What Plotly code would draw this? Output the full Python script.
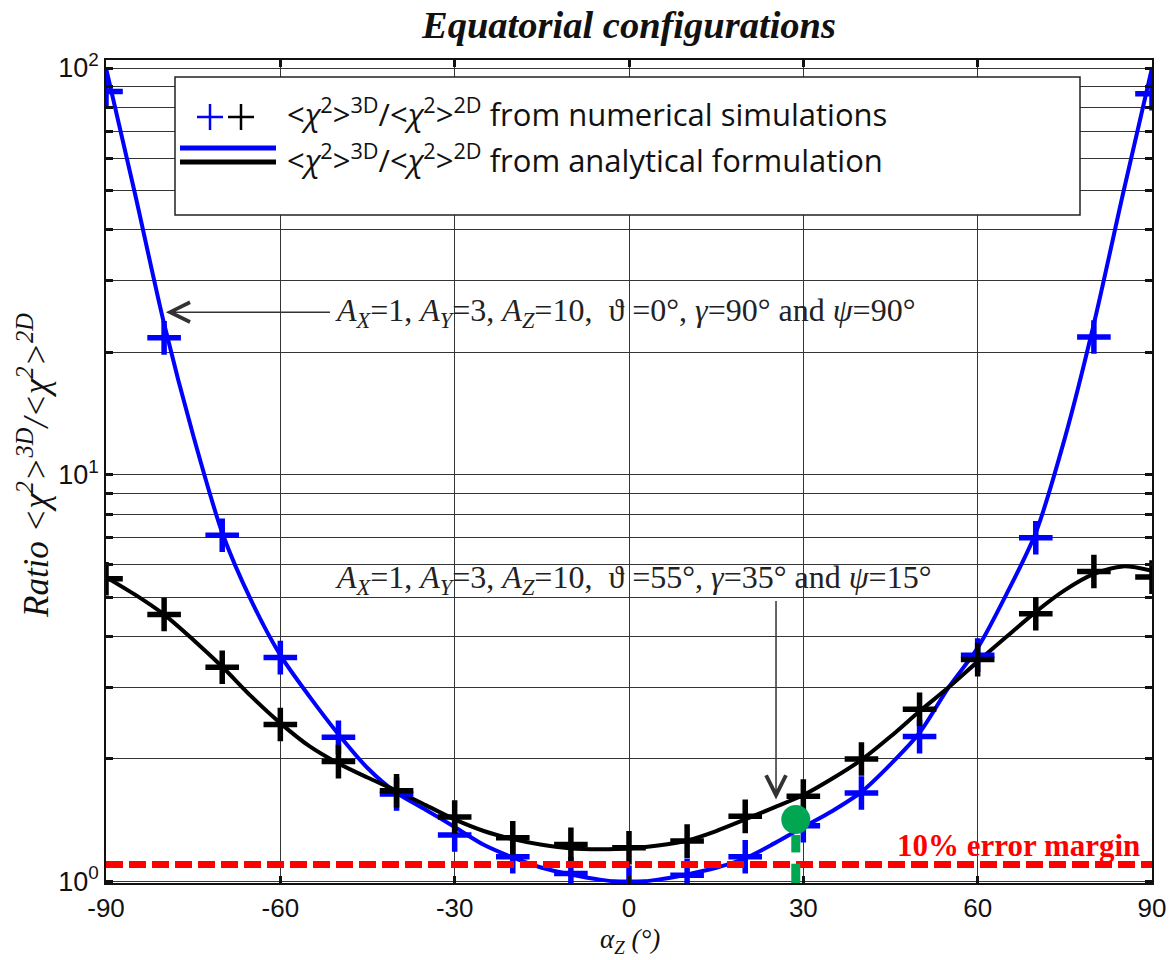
import numpy as np
import plotly.graph_objects as go

# ---------------- data ----------------
angles_sim = [-90, -80, -70, -60, -50, -40, -30, -20, -10, 0, 10, 20, 30, 40, 50, 60, 70, 80, 90]
ratio_sim_case1 = [87.5, 21.7, 7.1, 3.55, 2.26, 1.64, 1.30, 1.15, 1.046, 0.995, 1.035, 1.15, 1.37,
                   1.65, 2.27, 3.6, 7.0, 21.8, 86.5]
ratio_sim_case2 = [5.55, 4.53, 3.36, 2.43, 1.97, 1.67, 1.44, 1.28, 1.233, 1.21, 1.256, 1.445, 1.62,
                   2.0, 2.65, 3.51, 4.55, 5.78, 5.6]

angles_ana = list(range(-90, 91, 5))
ratio_ana_case1 = [100, 49, 23.5, 12.5, 7.2, 4.9, 3.6, 2.85, 2.3, 1.90, 1.65, 1.50, 1.36, 1.23, 1.145,
                   1.08, 1.04, 1.01, 0.995, 1.01, 1.04, 1.08, 1.14, 1.24, 1.36, 1.49, 1.66, 1.94, 2.32,
                   3.0, 3.75, 5.1, 7.2, 12.3, 23.5, 49, 100]
ratio_ana_case2 = [5.6, 5.07, 4.53, 3.93, 3.37, 2.85, 2.45, 2.15, 1.95, 1.8, 1.67, 1.54, 1.42, 1.33,
                   1.27, 1.23, 1.205, 1.2, 1.205, 1.225, 1.26, 1.33, 1.42, 1.52, 1.63, 1.79, 1.99,
                   2.27, 2.62, 3.0, 3.47, 4.0, 4.6, 5.2, 5.7, 5.95, 5.8]

error_margin = 1.1
error_label_pos = (88.3, 1.226)

pin_angle = 28.7
pin_head = 1.42
pin_stem_upper = [1.30, 1.178]
pin_stem_lower = [1.105, 0.99]

x_ticks = [-90, -60, -30, 0, 30, 60, 90]
x_ticktext = ["-90", "-60", "-30", "0", "30", "60", "90"]
y_ticks = [1, 10, 100]
y_ticktext = ["10<sup>0</sup>", "10<sup>1</sup>", "10<sup>2</sup>"]
y_minor = [2, 3, 4, 5, 6, 7, 8, 9, 20, 30, 40, 50, 60, 70, 80, 90]

case1_text = ("<i>A</i><sub><i>X</i></sub>=1, <i>A</i><sub><i>Y</i></sub>=3, "
              "<i>A</i><sub><i>Z</i></sub>=10,  ϑ =0°, <i>γ</i>=90° and <i>ψ</i>=90°")
case2_text = ("<i>A</i><sub><i>X</i></sub>=1, <i>A</i><sub><i>Y</i></sub>=3, "
              "<i>A</i><sub><i>Z</i></sub>=10,  ϑ =55°, <i>γ</i>=35° and <i>ψ</i>=15°")
case1_label_pos = (-51.0, 25.1)
case1_arrow_tip = (-79.7, 25.1)
case2_label_pos = (-51.0, 5.52)
case2_arrow_tail = (25.3, 4.93)
case2_arrow_tip = (25.3, 1.59)

# ---------------- layout geometry ----------------
W, H = 1170, 960
L, R, T, B = 106, 1152, 60, 883
Y_RANGE = [-0.004, 2.0197]


def fx(px):
    return (px - L) / (R - L)


def fy(py):
    return 1 - (py - T) / (B - T)


BLUE = "#0000FF"
BLACK = "#000000"
RED = "#FF0000"
GREEN = "#00A651"
GRID = "#353535"
SERIF = "Liberation Serif, Times New Roman, serif"
SANS = "Liberation Sans, Arial, sans-serif"
LEG = "Open Sans, Calibri, sans-serif"

fig = go.Figure()

fig.add_trace(go.Scatter(x=angles_ana, y=ratio_ana_case1, mode="lines",
                         line=dict(color=BLUE, width=4, shape="spline", smoothing=0.8),
                         showlegend=False))
fig.add_trace(go.Scatter(x=angles_ana, y=ratio_ana_case2, mode="lines",
                         line=dict(color=BLACK, width=4, shape="spline", smoothing=0.8),
                         showlegend=False))
fig.add_trace(go.Scatter(x=angles_sim, y=ratio_sim_case1, mode="markers",
                         marker=dict(symbol="cross-thin", size=24, color=BLUE,
                                     line=dict(color=BLUE, width=5.5)),
                         showlegend=False))
fig.add_trace(go.Scatter(x=angles_sim, y=ratio_sim_case2, mode="markers",
                         marker=dict(symbol="cross-thin", size=24, color=BLACK,
                                     line=dict(color=BLACK, width=5.5)),
                         showlegend=False))
fig.add_trace(go.Scatter(x=[x_ticks[0], x_ticks[-1]], y=[error_margin, error_margin], mode="lines",
                         line=dict(color=RED, width=7, dash="17px,6px"), showlegend=False))
fig.add_trace(go.Scatter(x=[pin_angle, pin_angle], y=pin_stem_upper, mode="lines",
                         line=dict(color=GREEN, width=9), showlegend=False))
fig.add_trace(go.Scatter(x=[pin_angle, pin_angle], y=pin_stem_lower, mode="lines",
                         line=dict(color=GREEN, width=9), showlegend=False))
fig.add_trace(go.Scatter(x=[pin_angle], y=[pin_head], mode="markers",
                         marker=dict(symbol="circle", size=29, color=GREEN), showlegend=False))

annotations = []
shapes = []

# error margin label
annotations.append(dict(x=error_label_pos[0], y=np.log10(error_label_pos[1]), xref="x", yref="y",
                        text="<b>10% error margin</b>", showarrow=False, xanchor="right",
                        yanchor="middle", font=dict(family=SERIF, size=31, color=RED)))

# case labels and arrows
annotations.append(dict(x=case1_label_pos[0], y=np.log10(case1_label_pos[1]), xref="x", yref="y",
                        text=case1_text, showarrow=False, xanchor="left", yanchor="middle",
                        font=dict(family=SERIF, size=32, color="#222")))
annotations.append(dict(x=case1_arrow_tip[0], y=np.log10(case1_arrow_tip[1]), xref="x", yref="y",
                        ax=case1_label_pos[0] - 0.2, ay=np.log10(case1_label_pos[1]),
                        axref="x", ayref="y", text="", showarrow=True, arrowhead=5,
                        arrowsize=2.6, arrowwidth=1.5, arrowcolor="#333", standoff=0))
annotations.append(dict(x=case2_label_pos[0], y=np.log10(case2_label_pos[1]), xref="x", yref="y",
                        text=case2_text, showarrow=False, xanchor="left", yanchor="middle",
                        font=dict(family=SERIF, size=32, color="#222")))
annotations.append(dict(x=case2_arrow_tip[0], y=np.log10(case2_arrow_tip[1]), xref="x", yref="y",
                        ax=case2_arrow_tail[0], ay=np.log10(case2_arrow_tail[1]),
                        axref="x", ayref="y", text="", showarrow=True, arrowhead=5,
                        arrowsize=2.6, arrowwidth=1.5, arrowcolor="#333", standoff=0))

# axis titles
annotations.append(dict(x=fx(34), y=fy(466), xref="paper", yref="paper", textangle=-90,
                        text="<i>Ratio &lt;χ<sup>2</sup>&gt;<sup>3D</sup>/&lt;χ<sup>2</sup>&gt;<sup>2D</sup></i>",
                        showarrow=False, xanchor="center", yanchor="middle",
                        font=dict(family=SERIF, size=35, color="#111")))
annotations.append(dict(x=fx(630), y=fy(941), xref="paper", yref="paper",
                        text="<i>α<sub>Z</sub> (°)</i>", showarrow=False, xanchor="center",
                        yanchor="middle", font=dict(family=SERIF, size=27, color="#111")))

# legend box (drawn manually)
shapes.append(dict(type="rect", xref="paper", yref="paper", x0=fx(175), x1=fx(1080),
                   y0=fy(215), y1=fy(77), line=dict(color="#222", width=1.5), fillcolor="white",
                   layer="above"))
for cx, col in [(210, BLUE), (241, BLACK)]:
    shapes.append(dict(type="line", xref="paper", yref="paper", x0=fx(cx - 13), x1=fx(cx + 13),
                       y0=fy(117), y1=fy(117), line=dict(color=col, width=2.5), layer="above"))
    shapes.append(dict(type="line", xref="paper", yref="paper", x0=fx(cx), x1=fx(cx),
                       y0=fy(104), y1=fy(130), line=dict(color=col, width=2.5), layer="above"))
shapes.append(dict(type="line", xref="paper", yref="paper", x0=fx(180), x1=fx(276),
                   y0=fy(148), y1=fy(148), line=dict(color=BLUE, width=5), layer="above"))
shapes.append(dict(type="line", xref="paper", yref="paper", x0=fx(180), x1=fx(276),
                   y0=fy(162), y1=fy(162), line=dict(color=BLACK, width=5), layer="above"))
leg_ratio = "&lt;<i>χ</i><sup>2</sup>&gt;<sup>3D</sup>/&lt;<i>χ</i><sup>2</sup>&gt;<sup>2D</sup>"
annotations.append(dict(x=fx(285), y=fy(113), xref="paper", yref="paper",
                        text=leg_ratio + " from numerical simulations", showarrow=False,
                        xanchor="left", yanchor="middle", font=dict(family=LEG, size=31, color="#111")))
annotations.append(dict(x=fx(285), y=fy(158), xref="paper", yref="paper",
                        text=leg_ratio + " from analytical formulation", showarrow=False,
                        xanchor="left", yanchor="middle", font=dict(family=LEG, size=31, color="#111")))

fig.update_layout(
    width=W, height=H,
    margin=dict(l=L, r=W - R, t=T, b=H - B, autoexpand=False),
    paper_bgcolor="white", plot_bgcolor="white",
    title=dict(text="<b><i>Equatorial configurations</i></b>", x=0.5, xref="paper",
               y=1 - 25 / H, yref="container", xanchor="center", yanchor="middle",
               font=dict(family=SERIF, size=38.5, color="#111")),
    annotations=annotations,
    shapes=shapes,
    showlegend=False,
)

fig.update_xaxes(range=[-90, 90], tickmode="array", tickvals=x_ticks, ticktext=x_ticktext,
                 showgrid=True, gridcolor=GRID, gridwidth=1.3, zeroline=False,
                 showline=True, linecolor="#111", linewidth=1.6, mirror="ticks",
                 ticks="inside", ticklen=7, tickwidth=2.5, tickcolor="#111",
                 tickfont=dict(family=SANS, size=26, color="#111"), ticklabelstandoff=1)
fig.update_yaxes(type="log", range=Y_RANGE, tickmode="array", tickvals=y_ticks,
                 ticktext=y_ticktext, showgrid=True, gridcolor=GRID, gridwidth=1.3,
                 zeroline=False, showline=True, linecolor="#111", linewidth=1.6, mirror="ticks",
                 ticks="inside", ticklen=7, tickwidth=2.5, tickcolor="#111",
                 tickfont=dict(family=SANS, size=27, color="#111"),
                 minor=dict(tickmode="array", tickvals=y_minor, showgrid=True, gridcolor=GRID,
                            gridwidth=1.3, ticks="inside", ticklen=7, tickwidth=2.5,
                            tickcolor="#111"))

fig.write_html("out.html")
